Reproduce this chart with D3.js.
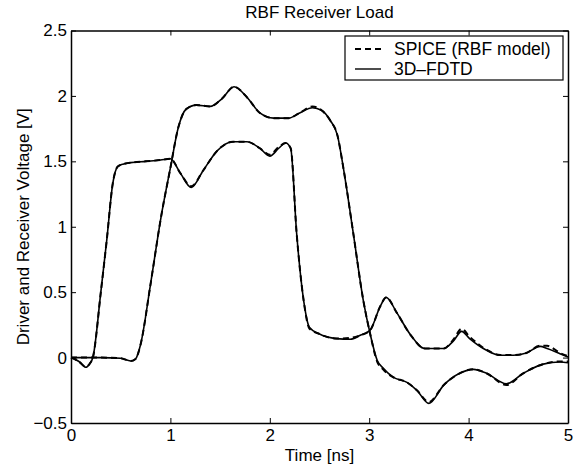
<!DOCTYPE html>
<html>
<head>
<meta charset="utf-8">
<script src="https://cdn.jsdelivr.net/npm/d3@7"></script>
<style>
  body { margin: 0; background: #fff; }
  svg { display: block; font-family: "Liberation Sans", Arial, Helvetica, sans-serif; }
</style>
</head>
<body>
<svg id="chart" width="574" height="467"></svg>
<script>
// driver side (rises first)
let driverTime = [0, 0.08, 0.15, 0.19, 0.22, 0.3, 0.36, 0.42, 0.47, 0.53, 0.6, 0.75, 0.9, 1.0, 1.1, 1.21, 1.33, 1.47, 1.63, 1.77, 1.9, 2.0, 2.09, 2.16, 2.21, 2.27, 2.34, 2.40, 2.5, 2.67, 2.81, 2.91, 3.01, 3.11, 3.17, 3.28, 3.41, 3.56, 3.75, 3.85, 3.93, 4.01, 4.18, 4.32, 4.45, 4.58, 4.72, 4.79, 4.92, 5.0];
let driverFDTD = [0, -0.03, -0.074, -0.045, 0, 0.5, 0.9, 1.33, 1.46, 1.48, 1.49, 1.5, 1.51, 1.52, 1.41, 1.30, 1.43, 1.58, 1.65, 1.65, 1.60, 1.54, 1.60, 1.64, 1.60, 0.95, 0.44, 0.23, 0.18, 0.145, 0.14, 0.17, 0.21, 0.39, 0.46, 0.34, 0.18, 0.07, 0.07, 0.13, 0.20, 0.145, 0.056, 0.018, 0.018, 0.035, 0.086, 0.07, 0.03, 0.005];
let driverSPICE = [0, -0.03, -0.07, -0.045, 0, 0.5, 0.9, 1.33, 1.46, 1.48, 1.49, 1.5, 1.51, 1.52, 1.41, 1.31, 1.43, 1.58, 1.65, 1.65, 1.60, 1.55, 1.61, 1.64, 1.60, 0.95, 0.44, 0.22, 0.18, 0.145, 0.15, 0.17, 0.21, 0.39, 0.46, 0.34, 0.18, 0.07, 0.07, 0.14, 0.22, 0.16, 0.06, 0.02, 0.02, 0.035, 0.09, 0.09, 0.035, 0.01];

// receiver side
let receiverTime = [0, 0.3, 0.5, 0.6, 0.65, 0.70, 0.80, 0.905, 1.0, 1.08, 1.16, 1.26, 1.40, 1.52, 1.64, 1.77, 1.90, 2.04, 2.19, 2.30, 2.43, 2.52, 2.61, 2.68, 2.74, 2.84, 2.94, 3.01, 3.08, 3.14, 3.24, 3.38, 3.48, 3.6, 3.75, 3.91, 4.05, 4.18, 4.38, 4.55, 4.75, 4.92, 5.0];
let receiverFDTD = [0, 0, -0.005, -0.026, -0.01, 0.10, 0.56, 1.07, 1.45, 1.76, 1.90, 1.93, 1.92, 1.98, 2.07, 1.99, 1.87, 1.83, 1.83, 1.87, 1.91, 1.89, 1.81, 1.70, 1.45, 0.95, 0.44, 0.18, -0.02, -0.08, -0.15, -0.19, -0.25, -0.35, -0.21, -0.12, -0.09, -0.12, -0.20, -0.12, -0.05, -0.034, -0.04];
let receiverSPICE = [0, 0, -0.005, -0.026, -0.01, 0.10, 0.56, 1.07, 1.45, 1.76, 1.90, 1.93, 1.92, 1.98, 2.07, 1.99, 1.87, 1.83, 1.83, 1.87, 1.92, 1.89, 1.81, 1.70, 1.45, 0.95, 0.44, 0.18, -0.03, -0.09, -0.15, -0.19, -0.25, -0.34, -0.21, -0.12, -0.09, -0.12, -0.21, -0.12, -0.05, -0.03, -0.03];

let xTicks = [0, 1, 2, 3, 4, 5];
let yTicks = [-0.5, 0, 0.5, 1, 1.5, 2, 2.5];
let legendLabels = ["SPICE (RBF model)", "3D–FDTD"];

let svg = d3.select("#chart");

let canvas = {
  "width": 574,
  "height": 467,
  "marginLeft": 71,
  "marginTop": 30.5,
  "marginRight": 6,
  "marginBottom": 44
};

let xScale = d3.scaleLinear()
  .domain([0, 5])
  .range([canvas.marginLeft, canvas.width - canvas.marginRight]);

let yScale = d3.scaleLinear()
  .domain([-0.5, 2.5])
  .range([canvas.height - canvas.marginBottom, canvas.marginTop]);

let fmt = d => (d < 0 ? "\u2212" : "") + Math.abs(d);

// axes, ticks pointing inward on all four sides
svg.append("g")
  .attr("transform", `translate(0, ${yScale(-0.5)})`)
  .call(d3.axisBottom(xScale).tickValues(xTicks).tickSizeInner(-5).tickSizeOuter(0).tickPadding(6).tickFormat(fmt));
svg.append("g")
  .attr("transform", `translate(0, ${yScale(2.5)})`)
  .call(d3.axisTop(xScale).tickValues(xTicks).tickSizeInner(-5).tickSizeOuter(0).tickFormat(""));
svg.append("g")
  .attr("transform", `translate(${xScale(0)}, 0)`)
  .call(d3.axisLeft(yScale).tickValues(yTicks).tickSizeInner(-5).tickSizeOuter(0).tickPadding(4).tickFormat(fmt));
svg.append("g")
  .attr("transform", `translate(${xScale(5)}, 0)`)
  .call(d3.axisRight(yScale).tickValues(yTicks).tickSizeInner(-5).tickSizeOuter(0).tickFormat(""));

svg.selectAll(".domain").attr("stroke", "#000").attr("stroke-width", 1.5);
svg.selectAll(".tick line").attr("stroke", "#000").attr("stroke-width", 1);
svg.selectAll(".tick text")
  .attr("fill", "#000")
  .attr("font-size", "17px")
  .attr("font-family", "Liberation Sans, Arial, sans-serif");

// curves
let line = d3.line()
  .x(d => xScale(d[0]))
  .y(d => yScale(d[1]))
  .curve(d3.curveMonotoneX);

let series = [
  {"t": driverTime, "v": driverSPICE, "dash": "6,4"},
  {"t": receiverTime, "v": receiverSPICE, "dash": "6,4"},
  {"t": driverTime, "v": driverFDTD, "dash": null},
  {"t": receiverTime, "v": receiverFDTD, "dash": null}
];

svg.append("g")
  .selectAll("path")
  .data(series)
  .join("path")
  .attr("d", s => line(s.t.map((t, i) => [t, s.v[i]])))
  .attr("fill", "none")
  .attr("stroke", "#000")
  .attr("stroke-width", s => s.dash ? 2 : 1.6)
  .attr("stroke-dasharray", s => s.dash)
  .attr("stroke-linejoin", "round");

// title and axis labels
svg.append("text")
  .attr("x", (xScale(0) + xScale(5)) / 2)
  .attr("y", 18)
  .attr("text-anchor", "middle")
  .attr("font-size", "17px")
  .text("RBF Receiver Load");

svg.append("text")
  .attr("x", (xScale(0) + xScale(5)) / 2)
  .attr("y", 461)
  .attr("text-anchor", "middle")
  .attr("font-size", "17px")
  .text("Time [ns]");

svg.append("text")
  .attr("transform", `translate(28.5, ${(yScale(-0.5) + yScale(2.5)) / 2}) rotate(-90)`)
  .attr("text-anchor", "middle")
  .attr("font-size", "17px")
  .text("Driver and Receiver Voltage [V]");

// legend
let legend = svg.append("g").attr("transform", "translate(345, 36)");
legend.append("rect")
  .attr("width", 218)
  .attr("height", 44)
  .attr("fill", "#fff")
  .attr("stroke", "#000")
  .attr("stroke-width", 1.2);

legend.selectAll(".entry")
  .data(legendLabels)
  .join("g")
  .attr("class", "entry")
  .attr("transform", (d, i) => `translate(0, ${13 + i * 20})`)
  .each(function(d, i) {
    let g = d3.select(this);
    g.append("line")
      .attr("x1", 10).attr("x2", 36)
      .attr("stroke", "#000")
      .attr("stroke-width", i === 0 ? 2 : 1.4)
      .attr("stroke-dasharray", i === 0 ? "6,4" : null);
    g.append("text")
      .attr("x", 49)
      .attr("y", 6)
      .attr("font-size", "17.5px")
      .text(d);
  });
</script>
</body>
</html>
